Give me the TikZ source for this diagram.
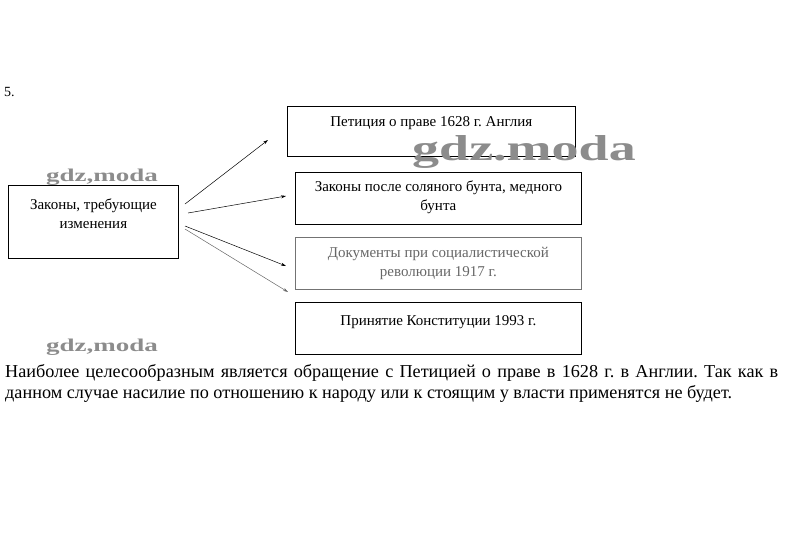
\documentclass[tikz,border=0pt]{standalone}
\usepackage{fontspec}
\setmainfont{Liberation Serif}
\newfontfamily\wmfont[FakeStretch=1.5]{Liberation Serif Bold}
\usetikzlibrary{arrows.meta}
\begin{document}
\frenchspacing
\begin{tikzpicture}[x=1pt,y=-1pt,
  box/.style={draw=black, line width=0.8pt, anchor=north west, inner sep=0pt},
  boxtext/.style={anchor=north, align=center, font=\fontsize{15}{19}\selectfont, inner sep=0pt},
  arr/.style={draw=black, line width=0.5pt, -{Stealth[length=5pt,width=3pt]}},
  wm/.style={font=\wmfont\fontsize{18}{18}\selectfont, text=black!45, inner sep=0pt},
  wmbig/.style={font=\wmfont\fontsize{36}{36}\selectfont, text=black!45, inner sep=0pt},
  body/.style={anchor=base west, inner sep=0pt, font=\fontsize{18.2}{21}\selectfont}]
\useasboundingbox (0,0) rectangle (809,539);
\node[anchor=west, font=\fontsize{14}{14}\selectfont, inner sep=0pt] (num) at (4,92) {5.};
% boxes
\node[box, minimum width=170pt, minimum height=73pt,
  label={[boxtext, yshift=-14pt]north:Законы, требующие\\изменения}] (src) at (8,185) {};
\node[box, minimum width=288pt, minimum height=50pt,
  label={[boxtext, yshift=-10pt]north:Петиция о праве 1628 г. Англия}] (b1) at (287,106) {};
\node[box, minimum width=286pt, minimum height=52pt,
  label={[boxtext, yshift=-9pt]north:Законы после соляного бунта, медного\\бунта}] (b2) at (295,172) {};
\node[box, draw=black!55, minimum width=286pt, minimum height=52pt,
  label={[boxtext, text=black!60, yshift=-10pt]north:Документы при социалистической\\революции 1917 г.}] (b3) at (295,237) {};
\node[box, minimum width=286pt, minimum height=52pt,
  label={[boxtext, yshift=-13pt]north:Принятие Конституции 1993 г.}] (b4) at (295,302) {};
% arrow ends
\coordinate (s1) at (185,204);
\coordinate (s2) at (188,213);
\coordinate (s3) at (185,226);
\coordinate (s4) at (185,229);
\coordinate (e1) at (268,140);
\coordinate (e2) at (286,196);
\coordinate (e3) at (286,266);
\coordinate (e4) at (288,292);
\draw[arr] (s1) -- (e1);
\draw[arr] (s2) -- (e2);
\draw[arr] (s3) -- (e3);
\draw[arr, draw=black!60] (s4) -- (e4);
% watermarks
\node[wmbig] (w1) at (524,152) {gdz.moda};
\node[wm] (w2) at (102,177) {gdz,moda};
\node[wm] (w3) at (102,347) {gdz,moda};
% bottom text
\node[body] (t1) at (5,377)
  {\makebox[773pt][s]{Наиболее целесообразным является обращение с Петицией о праве в 1628 г. в Англии. Так как в}};
\node[body] (t2) at (5,398)
  {данном случае насилие по отношению к народу или к стоящим у власти применятся не будет.};
\end{tikzpicture}
\end{document}
